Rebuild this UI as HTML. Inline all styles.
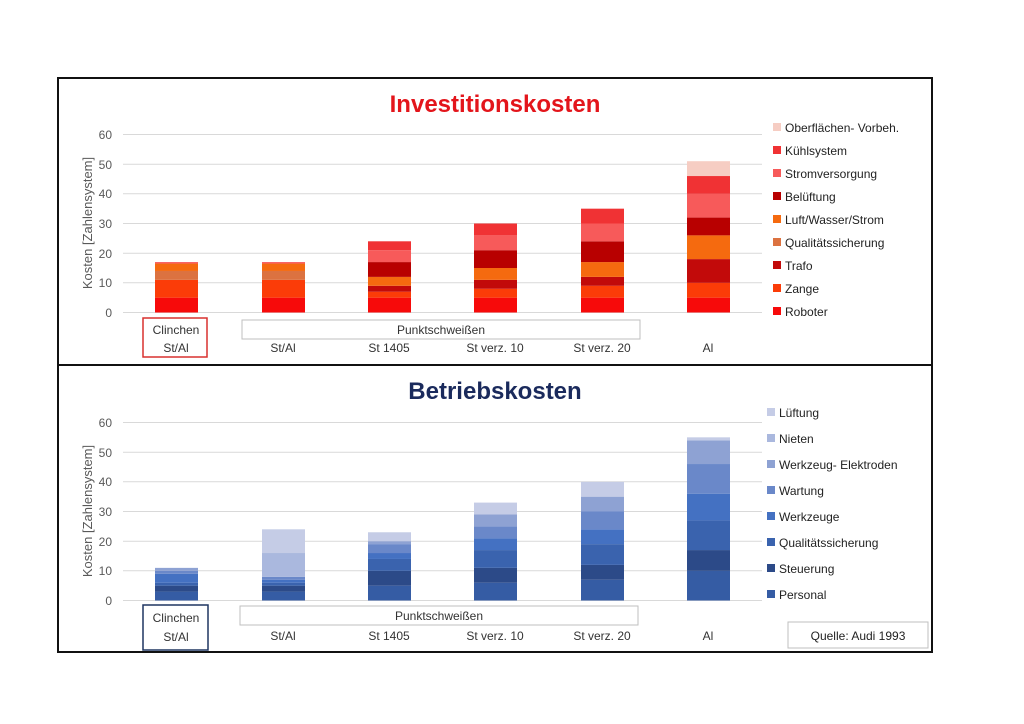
<!DOCTYPE html>
<html><head><meta charset="utf-8"><style>
html,body{margin:0;padding:0;background:#fff;}
svg{display:block;font-family:"Liberation Sans",sans-serif;}
</style></head><body>
<svg width="1024" height="724" xmlns="http://www.w3.org/2000/svg">
<rect x="0" y="0" width="1024" height="724" fill="#fff"/>
<rect x="58" y="78" width="874" height="287" fill="none" stroke="#111" stroke-width="2"/>
<rect x="58" y="365" width="874" height="287" fill="none" stroke="#111" stroke-width="2"/>

<text x="495" y="112" text-anchor="middle" font-size="24" font-weight="bold" fill="#e3151b">Investitionskosten</text>
<g stroke="#d9d9d9" stroke-width="1">
<line x1="123" x2="762" y1="312.5" y2="312.5"/><line x1="123" x2="762" y1="282.8" y2="282.8"/>
<line x1="123" x2="762" y1="253.2" y2="253.2"/><line x1="123" x2="762" y1="223.5" y2="223.5"/>
<line x1="123" x2="762" y1="193.8" y2="193.8"/><line x1="123" x2="762" y1="164.2" y2="164.2"/>
<line x1="123" x2="762" y1="134.5" y2="134.5"/>
</g>
<g font-size="12" fill="#595959" text-anchor="end">
<text x="112" y="317">0</text><text x="112" y="287">10</text><text x="112" y="258">20</text>
<text x="112" y="228">30</text><text x="112" y="198">40</text><text x="112" y="169">50</text><text x="112" y="139">60</text>
</g>
<text transform="translate(92,223) rotate(-90)" text-anchor="middle" font-size="13" fill="#595959">Kosten [Zahlensystem]</text>
<g id="topbars"></g>
<rect x="143" y="318" width="64" height="39" fill="none" stroke="#d9312f" stroke-width="1.5"/>
<rect x="242" y="320" width="398" height="19" fill="none" stroke="#bfbfbf" stroke-width="1"/>
<g font-size="12" fill="#333" text-anchor="middle">
<text x="176" y="334">Clinchen</text><text x="176" y="352">St/Al</text>
<text x="441" y="334">Punktschweißen</text>
<text x="283" y="352">St/Al</text><text x="389" y="352">St 1405</text><text x="495" y="352">St verz. 10</text>
<text x="602" y="352">St verz. 20</text><text x="708" y="352">Al</text>
</g>
<g font-size="12" fill="#222">
<rect x="773" y="123" width="8" height="8" fill="#f6cdc3"/><text x="785" y="132">Oberflächen- Vorbeh.</text>
<rect x="773" y="146" width="8" height="8" fill="#f03234"/><text x="785" y="155">Kühlsystem</text>
<rect x="773" y="169" width="8" height="8" fill="#f75a5a"/><text x="785" y="178">Stromversorgung</text>
<rect x="773" y="192" width="8" height="8" fill="#b80000"/><text x="785" y="201">Belüftung</text>
<rect x="773" y="215" width="8" height="8" fill="#f56a0f"/><text x="785" y="224">Luft/Wasser/Strom</text>
<rect x="773" y="238" width="8" height="8" fill="#dc7240"/><text x="785" y="247">Qualitätssicherung</text>
<rect x="773" y="261" width="8" height="8" fill="#c20a0a"/><text x="785" y="270">Trafo</text>
<rect x="773" y="284" width="8" height="8" fill="#fb3c08"/><text x="785" y="293">Zange</text>
<rect x="773" y="307" width="8" height="8" fill="#f70a0a"/><text x="785" y="316">Roboter</text>
</g>

<text x="495" y="399" text-anchor="middle" font-size="24" font-weight="bold" fill="#1a2a5c">Betriebskosten</text>
<g stroke="#d9d9d9" stroke-width="1">
<line x1="123" x2="762" y1="600.5" y2="600.5"/><line x1="123" x2="762" y1="570.8" y2="570.8"/>
<line x1="123" x2="762" y1="541.2" y2="541.2"/><line x1="123" x2="762" y1="511.5" y2="511.5"/>
<line x1="123" x2="762" y1="481.8" y2="481.8"/><line x1="123" x2="762" y1="452.2" y2="452.2"/>
<line x1="123" x2="762" y1="422.5" y2="422.5"/>
</g>
<g font-size="12" fill="#595959" text-anchor="end">
<text x="112" y="605">0</text><text x="112" y="575">10</text><text x="112" y="546">20</text>
<text x="112" y="516">30</text><text x="112" y="486">40</text><text x="112" y="457">50</text><text x="112" y="427">60</text>
</g>
<text transform="translate(92,511) rotate(-90)" text-anchor="middle" font-size="13" fill="#595959">Kosten [Zahlensystem]</text>
<g id="botbars"></g>
<rect x="143" y="605" width="65" height="45" fill="none" stroke="#1f3560" stroke-width="1.5"/>
<rect x="240" y="606" width="398" height="19" fill="none" stroke="#bfbfbf" stroke-width="1"/>
<g font-size="12" fill="#333" text-anchor="middle">
<text x="176" y="622">Clinchen</text><text x="176" y="641">St/Al</text>
<text x="439" y="620">Punktschweißen</text>
<text x="283" y="640">St/Al</text><text x="389" y="640">St 1405</text><text x="495" y="640">St verz. 10</text>
<text x="602" y="640">St verz. 20</text><text x="708" y="640">Al</text>
</g>
<g font-size="12" fill="#222">
<rect x="767" y="408" width="8" height="8" fill="#c5cce6"/><text x="779" y="417">Lüftung</text>
<rect x="767" y="434" width="8" height="8" fill="#aab8de"/><text x="779" y="443">Nieten</text>
<rect x="767" y="460" width="8" height="8" fill="#8ea2d3"/><text x="779" y="469">Werkzeug- Elektroden</text>
<rect x="767" y="486" width="8" height="8" fill="#6a88c9"/><text x="779" y="495">Wartung</text>
<rect x="767" y="512" width="8" height="8" fill="#4471c2"/><text x="779" y="521">Werkzeuge</text>
<rect x="767" y="538" width="8" height="8" fill="#3a63ae"/><text x="779" y="547">Qualitätssicherung</text>
<rect x="767" y="564" width="8" height="8" fill="#2c4a88"/><text x="779" y="573">Steuerung</text>
<rect x="767" y="590" width="8" height="8" fill="#355ca4"/><text x="779" y="599">Personal</text>
</g>
<rect x="788" y="622" width="140" height="26" fill="#fff" stroke="#bfbfbf" stroke-width="1"/>
<text x="858" y="640" text-anchor="middle" font-size="12" fill="#222">Quelle: Audi 1993</text>
</svg>
<script>
(function(){
var k=178/60, xs=[155,262,368,474,581,687], w=43;
var invData=[
 [[0,5,"#f70a0a"],[5,11,"#fb3c08"],[11,14,"#dc7240"],[14,16.5,"#f56a0f"],[16.5,17,"#f75a5a"]],
 [[0,5,"#f70a0a"],[5,11,"#fb3c08"],[11,14,"#dc7240"],[14,16.5,"#f56a0f"],[16.5,17,"#f75a5a"]],
 [[0,5,"#f70a0a"],[5,7,"#fb3c08"],[7,9,"#c20a0a"],[9,12,"#f56a0f"],[12,17,"#b80000"],[17,21,"#f75a5a"],[21,24,"#f03234"]],
 [[0,5,"#f70a0a"],[5,8,"#fb3c08"],[8,11,"#c20a0a"],[11,15,"#f56a0f"],[15,21,"#b80000"],[21,26,"#f75a5a"],[26,30,"#f03234"]],
 [[0,5,"#f70a0a"],[5,9,"#fb3c08"],[9,12,"#c20a0a"],[12,17,"#f56a0f"],[17,24,"#b80000"],[24,30,"#f75a5a"],[30,35,"#f03234"]],
 [[0,5,"#f70a0a"],[5,10,"#fb3c08"],[10,18,"#c20a0a"],[18,26,"#f56a0f"],[26,32,"#b80000"],[32,40,"#f75a5a"],[40,46,"#f03234"],[46,51,"#f6cdc3"]]
];
var P="#355ca4",S="#2c4a88",Q="#3a63ae",W="#4471c2",Wa="#6a88c9",E="#8ea2d3",N="#aab8de",L="#c5cce6";
var betData=[
 [[0,3,P],[3,5,S],[5,6,Q],[6,9,W],[9,10,Wa],[10,11,E]],
 [[0,3,P],[3,5,S],[5,6,Q],[6,7,W],[7,8,Wa],[8,16,N],[16,24,L]],
 [[0,5,P],[5,10,S],[10,14,Q],[14,16,W],[16,19,Wa],[19,20,E],[20,23,L]],
 [[0,6,P],[6,11,S],[11,17,Q],[17,21,W],[21,25,Wa],[25,29,E],[29,33,L]],
 [[0,7,P],[7,12,S],[12,19,Q],[19,24,W],[24,30,Wa],[30,35,E],[35,40,L]],
 [[0,10,P],[10,17,S],[17,27,Q],[27,36,W],[36,46,Wa],[46,54,E],[54,55,L]]
];
var NS="http://www.w3.org/2000/svg";
function draw(id,data,y0){var g=document.getElementById(id);
 data.forEach(function(b,i){b.forEach(function(seg){
  var r=document.createElementNS(NS,"rect");
  r.setAttribute("x",xs[i]);r.setAttribute("y",(y0-seg[1]*k).toFixed(2));
  r.setAttribute("width",w);r.setAttribute("height",((seg[1]-seg[0])*k).toFixed(2));
  r.setAttribute("fill",seg[2]);g.appendChild(r);});});}
draw("topbars",invData,312.5);draw("botbars",betData,600.5);
})();
</script>
</body></html>
